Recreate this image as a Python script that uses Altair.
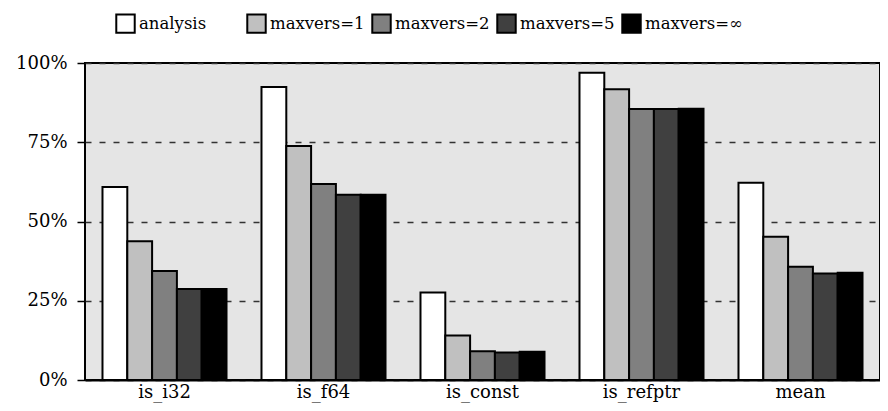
import altair as alt
import pandas as pd

categories = ["is_i32", "is_f64", "is_const", "is_refptr", "mean"]
series = ["analysis", "maxvers=1", "maxvers=2", "maxvers=5", "maxvers=∞"]
analysis = [60.9, 92.4, 27.6, 96.9, 62.2]
maxvers1 = [43.8, 73.8, 14.0, 91.7, 45.2]
maxvers2 = [34.4, 61.8, 9.1, 85.5, 35.7]
maxvers5 = [28.7, 58.4, 8.7, 85.5, 33.6]
maxversinf = [28.7, 58.4, 8.9, 85.6, 33.8]
colors = ["#ffffff", "#c0c0c0", "#808080", "#404040", "#000000"]

rows = []
for s, vals in zip(series, [analysis, maxvers1, maxvers2, maxvers5, maxversinf]):
    for c, v in zip(categories, vals):
        rows.append({"category": c, "series": s, "value": v / 100.0})
df = pd.DataFrame(rows)

FONT = "DejaVu Serif"
AX = 18
LG = 16.5

x_enc = alt.X("category:N", sort=categories,
              scale=alt.Scale(paddingInner=0.22, paddingOuter=0.11),
              axis=alt.Axis(title=None, labelAngle=0, ticks=False, labelPadding=3,
                            domainColor="black", domainWidth=2,
                            labelFont=FONT, labelFontSize=AX, labelColor="black"))
xo_enc = alt.XOffset("series:N", sort=series,
                     scale=alt.Scale(domain=series, paddingInner=0, paddingOuter=0))
y_enc = alt.Y("value:Q", scale=alt.Scale(domain=[0, 1], nice=False),
              axis=alt.Axis(title=None, values=[0, 0.25, 0.5, 0.75, 1], format=".0%",
                            domain=False, tickSize=8, tickColor="black", tickWidth=1.5,
                            labelPadding=10, labelFont=FONT, labelFontSize=AX,
                            labelColor="black",
                            grid=True, gridColor="#333333", gridDash=[6, 8],
                            gridWidth=1.5))


def legend(x):
    return alt.Legend(title=None, orient="none", legendX=x, legendY=-50,
                      direction="horizontal", columns=5,
                      symbolType="square", symbolSize=340,
                      symbolStrokeColor="black", symbolStrokeWidth=2,
                      symbolOpacity=1, labelOffset=3, columnPadding=3,
                      labelFont=FONT, labelFontSize=LG,
                      labelColor="black", labelLimit=300)


base = alt.Chart(df)

bars_a = base.transform_filter(alt.datum.series == series[0]).mark_bar(
    stroke="black", strokeWidth=2).encode(
    x=x_enc, xOffset=xo_enc, y=y_enc,
    fill=alt.Fill("series:N", scale=alt.Scale(domain=series[:1], range=colors[:1]),
                  legend=legend(30)),
)

bars_m = base.transform_filter(alt.datum.series != series[0]).mark_bar(
    stroke="black", strokeWidth=2).encode(
    x=x_enc, xOffset=xo_enc, y=y_enc,
    fill=alt.Fill("series:N", sort=series[1:],
                  scale=alt.Scale(domain=series[1:], range=colors[1:]),
                  legend=legend(161)),
)

chart = alt.layer(bars_a, bars_m).resolve_scale(fill="independent").properties(
    width=795, height=317,
    autosize=alt.AutoSizeParams(type="none"),
    padding={"left": 77, "top": 55, "right": 0, "bottom": 23},
).configure_view(
    fill="#e5e5e5", stroke="black", strokeWidth=2
)

chart.save("out.html", embed_options={"renderer": "svg", "actions": False})
